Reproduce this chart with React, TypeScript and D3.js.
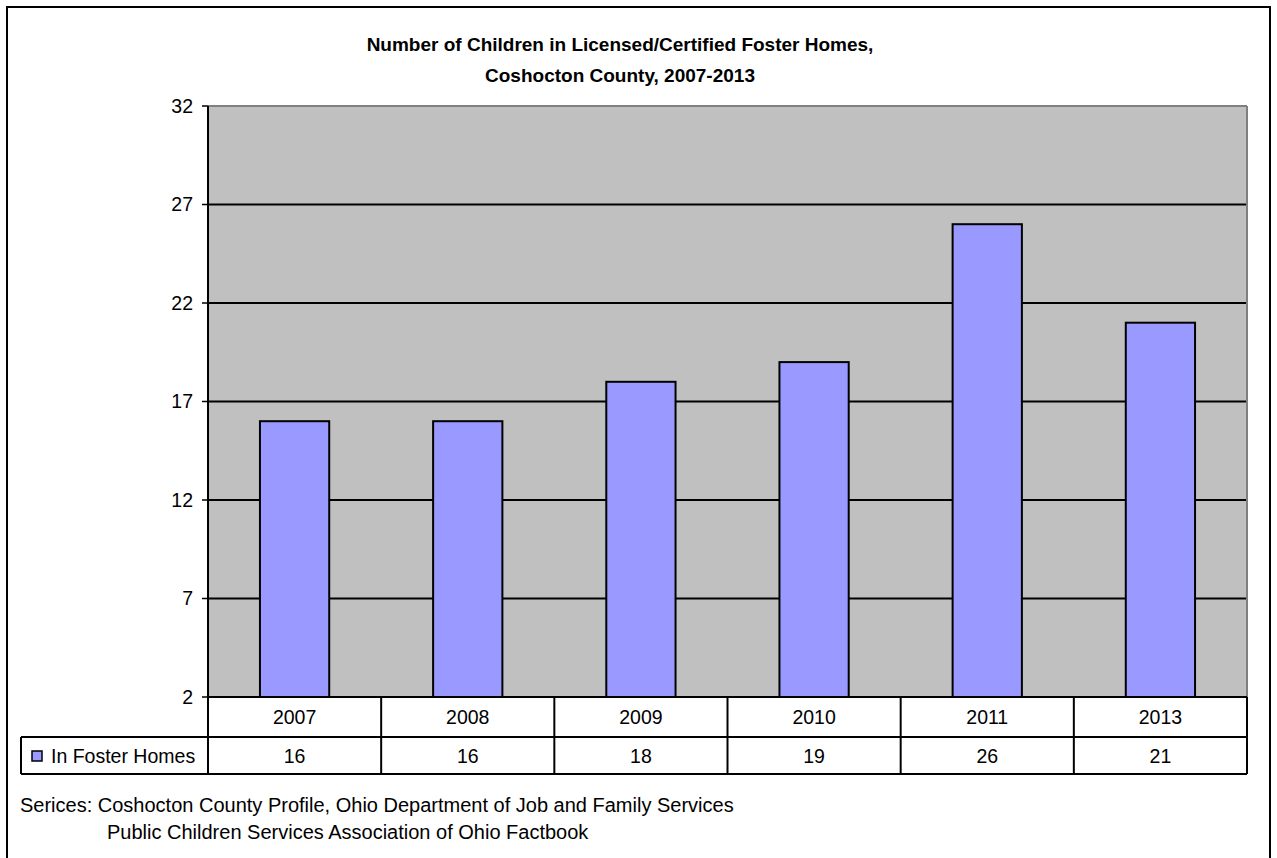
import React from "react";
import * as d3 from "d3";

const categories = ["2007", "2008", "2009", "2010", "2011", "2013"];
const values = [16, 16, 18, 19, 26, 21];
const yTicks = [2, 7, 12, 17, 22, 27, 32];
const seriesName = "In Foster Homes";
const titleLines = ["Number of Children in Licensed/Certified Foster Homes,", "Coshocton County, 2007-2013"];
const sourceLines = [
  "Serices: Coshocton County Profile, Ohio Department of Job and Family Services",
  "Public Children Services Association of Ohio Factbook",
];

const W = 1277;
const H = 858;
const left = 208;
const right = 1247;
const top = 106;
const bottom = 697;
const row1 = 737;
const row2 = 774;
const font = "Arial, 'Liberation Sans', sans-serif";
const fs = 19.5;

export default function App() {
  const x = d3.scaleBand<string>().domain(categories).range([left, right]).paddingInner(0.6).paddingOuter(0.3);
  const xc = d3.scaleBand<string>().domain(categories).range([left, right]);
  const y = d3.scaleLinear().domain([2, 32]).range([bottom, top]);

  return (
    <svg width={W} height={H} style={{ position: "absolute", left: 0, top: 0, background: "#fff" }} fontFamily={font}>
      <rect x={7} y={7} width={1263} height={860} fill="#fff" stroke="#000" strokeWidth={2} />
      {titleLines.map((t, i) => (
        <text key={i} x={620} y={51 + i * 31} textAnchor="middle" fontSize={19} fontWeight="bold">{t}</text>
      ))}
      <rect x={left} y={top} width={right - left} height={bottom - top} fill="#c0c0c0" />
      {yTicks.filter((t) => t !== 2 && t !== 32).map((t) => (
        <line key={t} x1={left} x2={right} y1={y(t)} y2={y(t)} stroke="#000" strokeWidth={2} />
      ))}
      <line x1={left} x2={right} y1={top} y2={top} stroke="#808080" strokeWidth={2} />
      <line x1={right} x2={right} y1={top} y2={bottom} stroke="#808080" strokeWidth={2} />
      {categories.map((c, i) => (
        <rect key={c} x={x(c)} y={y(values[i])} width={x.bandwidth()} height={bottom - y(values[i])}
          fill="#9999ff" stroke="#000" strokeWidth={2} />
      ))}
      <line x1={left} x2={left} y1={top} y2={bottom} stroke="#000" strokeWidth={2} />
      {yTicks.map((t) => (
        <g key={t}>
          <line x1={left - 6} x2={left} y1={y(t)} y2={y(t)} stroke="#000" strokeWidth={1.5} />
          <text x={left - 15} y={y(t)} dy="0.35em" textAnchor="end" fontSize={fs}>{t}</text>
        </g>
      ))}
      <g stroke="#000" strokeWidth={2} fill="none">
        <line x1={left} x2={right} y1={bottom} y2={bottom} />
        <line x1={21} x2={right} y1={row1} y2={row1} />
        <line x1={21} x2={right} y1={row2} y2={row2} />
        <line x1={21} x2={21} y1={row1} y2={row2} />
        <line x1={left} x2={left} y1={bottom} y2={row2} />
        {categories.map((c) => (
          <line key={c} x1={(xc(c) as number) + xc.bandwidth()} x2={(xc(c) as number) + xc.bandwidth()} y1={bottom} y2={row2} />
        ))}
      </g>
      {categories.map((c, i) => (
        <g key={c} fontSize={fs}>
          <text x={(xc(c) as number) + xc.bandwidth() / 2} y={(bottom + row1) / 2} dy="0.35em" textAnchor="middle">{c}</text>
          <text x={(xc(c) as number) + xc.bandwidth() / 2} y={(row1 + row2) / 2 + 1} dy="0.35em" textAnchor="middle">{values[i]}</text>
        </g>
      ))}
      <rect x={32} y={751} width={10} height={10} fill="#9999ff" stroke="#000" strokeWidth={1.5} />
      <text x={51} y={(row1 + row2) / 2 + 1} dy="0.35em" fontSize={fs}>{seriesName}</text>
      <text x={20} y={812} fontSize={20}>{sourceLines[0]}</text>
      <text x={107} y={839} fontSize={20}>{sourceLines[1]}</text>
    </svg>
  );
}
